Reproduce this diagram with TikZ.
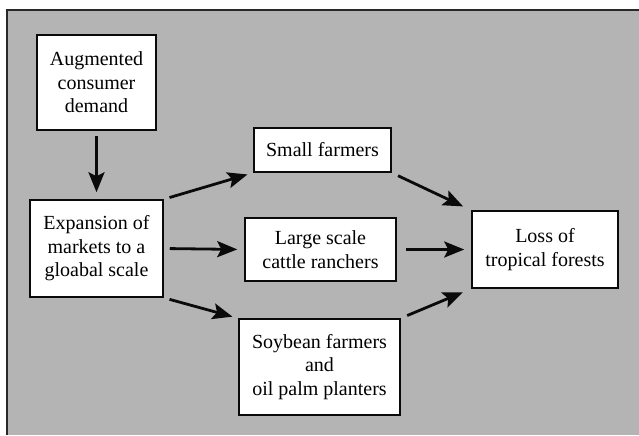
\documentclass[tikz,border=0pt]{standalone}
\usepackage{fontspec}
\setmainfont{Liberation Serif}
\usepackage{tikz}
\usetikzlibrary{arrows.meta, positioning}
\definecolor{bggrey}{RGB}{180,180,180}
\definecolor{framedark}{RGB}{40,40,40}
\definecolor{mydark}{RGB}{10,10,10}
\tikzset{
  block/.style={rectangle, draw=mydark, fill=white, align=center,
    inner sep=0pt, line width=0.75pt,
    font=\rmfamily\fontsize{10}{11.8}\selectfont},
  arrow/.style={-{Stealth[length=10pt, width=8pt, inset=2pt]},
    line width=1.4pt, color=mydark, shorten <=3pt, shorten >=3pt}
}

\begin{document}
\begin{tikzpicture}[x=0.5pt, y=-0.5pt]
  \useasboundingbox (0,0) rectangle (639,435);
  % ── grey panel ──
  \fill[bggrey] (7,10) rectangle (639,435);
  \draw[framedark, line width=1pt] (7,435) -- (7,10) -- (639,10);

  % ── boxes (sizes in pt, half the pixel size) ──
  \node[block, minimum width=59.5pt, minimum height=47.5pt] (demand) at (96.5, 82.5) {Augmented\\consumer\\demand};
  \node[block, minimum width=66.5pt, minimum height=48.5pt] (markets) at (96.5, 248.5) {Expansion of\\markets to a\\gloabal scale};
  \node[block, minimum width=68.5pt, minimum height=22pt] (small) at (322.5, 150) {Small farmers};
  \node[block, minimum width=75.5pt, minimum height=31.5pt] (cattle) at (320.5, 249.5) {Large scale\\cattle ranchers};
  \node[block, minimum width=80.5pt, minimum height=48pt] (soybean) at (319.5, 367) {Soybean farmers\\and\\oil palm planters};
  \node[block, minimum width=73pt, minimum height=38.5pt] (loss) at (545, 249.5) {Loss of\\tropical forests};

  % ── arrows ──
  \draw[arrow, shorten <=2.5pt, shorten >=3.5pt] (demand.south) -- (markets.north);
  \draw[arrow] (markets.north east) -- (small.south west);
  \draw[arrow, shorten >=3.5pt] (markets.east) -- (cattle.west);
  \draw[arrow] (markets.south east) -- (soybean.north west);
  \draw[arrow, shorten <=3.5pt, shorten >=4.5pt] (small.south east) -- (loss.north west);
  \draw[arrow, shorten <=4.5pt, shorten >=3.5pt] (cattle.east) -- (loss.west);
  \draw[arrow, shorten <=3.5pt, shorten >=4.5pt] (soybean.north east) -- (loss.south west);
\end{tikzpicture}
\end{document}
